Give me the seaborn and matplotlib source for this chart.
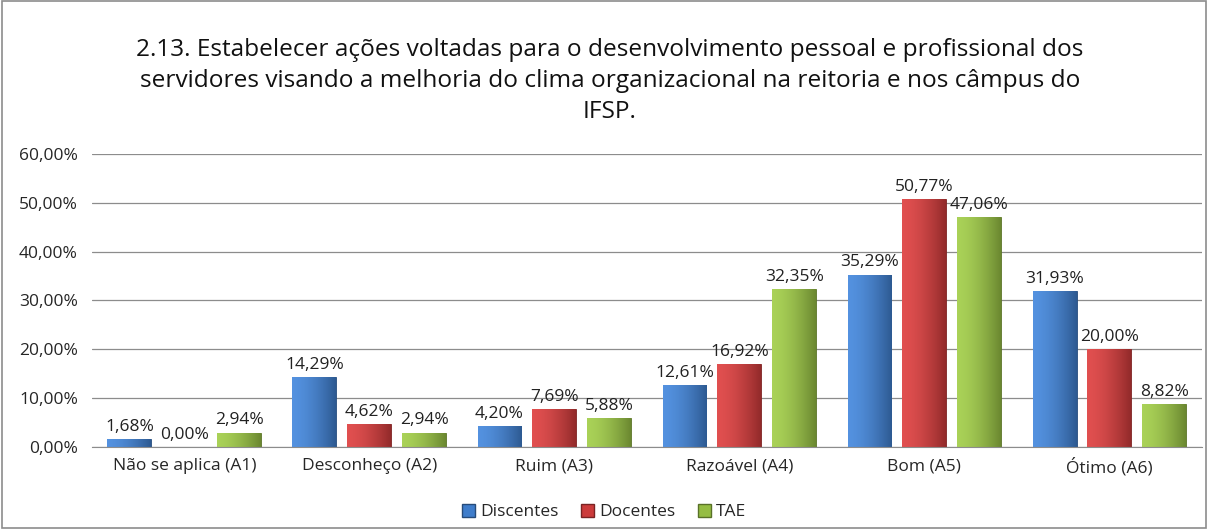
import numpy as np
import pandas as pd
import matplotlib
matplotlib.use('Agg')
import matplotlib.pyplot as plt
import matplotlib.colors as mcolors
from matplotlib.patches import Rectangle
import seaborn as sns

categories = ['Não se aplica (A1)', 'Desconheço (A2)', 'Ruim (A3)',
              'Razoável (A4)', 'Bom (A5)', 'Ótimo (A6)']
groups = ['Discentes', 'Docentes', 'TAE']
discentes = [1.68, 14.29, 4.20, 12.61, 35.29, 31.93]
docentes = [0.00, 4.62, 7.69, 16.92, 50.77, 20.00]
tae = [2.94, 2.94, 5.88, 32.35, 47.06, 8.82]
yticks = [0, 10, 20, 30, 40, 50, 60]
title = ('2.13. Estabelecer ações voltadas para o desenvolvimento pessoal e profissional dos\n'
         'servidores visando a melhoria do clima organizacional na reitoria e nos câmpus do\n'
         'IFSP.')

colors = {'Discentes': '#3F7DCB', 'Docentes': '#CC3B3B', 'TAE': '#95BD43'}

df = pd.DataFrame({
    'cat': categories * 3,
    'grupo': [g for g in groups for _ in categories],
    'valor': discentes + docentes + tae,
})

sns.set_style('white')
plt.rcParams['font.family'] = ['Open Sans', 'DejaVu Sans']

fig = plt.figure(figsize=(12.08, 5.29), dpi=100)
ax = fig.add_axes([0.076, 0.155, 0.919, 0.554])

sns.barplot(data=df, x='cat', y='valor', hue='grupo', order=categories,
            hue_order=groups, palette=colors, width=0.89, gap=0.2,
            ax=ax, legend=True, saturation=1)

# gradient fill on each bar, clipped to the bar shape
t = np.linspace(0, 1, 64)
for cont, g in zip(ax.containers, groups):
    base = np.array(mcolors.to_rgb(colors[g]))
    light = np.clip(base + 0.08, 0, 1)
    dark = base * 0.72
    grad = np.array([light + (dark - light) * (x ** 1.6) for x in t])
    for bar in cont:
        x0, y0 = bar.get_x(), bar.get_y()
        w, h = bar.get_width(), bar.get_height()
        bar.set_edgecolor(tuple(base * 0.6))
        bar.set_linewidth(0.6)
        if h <= 0:
            continue
        im = ax.imshow(grad[None, :, :], extent=[x0, x0 + w, y0, y0 + h],
                       aspect='auto', zorder=bar.get_zorder() + 0.1,
                       interpolation='bilinear')
        im.set_clip_path(bar)
    labels = [f'{v:.2f}%'.replace('.', ',') for v in cont.datavalues]
    ax.bar_label(cont, labels=labels, padding=3, fontsize=12.5, color='#222222')

ax.set_xlim(-0.5, len(categories) - 0.5)
ax.set_ylim(0, 60)
ax.set_yticks(yticks)
ax.set_yticklabels([f'{v:.2f}%'.replace('.', ',') for v in yticks], fontsize=12.5)
ax.yaxis.grid(True, color='#8C8C8C', linewidth=0.9)
ax.set_axisbelow(True)
ax.tick_params(axis='x', labelsize=12.5, length=0, pad=8)
ax.tick_params(axis='y', length=0, pad=10)
ax.set_xlabel('')
ax.set_ylabel('')
for s in ['top', 'right', 'left']:
    ax.spines[s].set_visible(False)
ax.spines['bottom'].set_color('#8C8C8C')

ax.get_legend().remove()
handles = [Rectangle((0, 0), 1, 1, facecolor=colors[g],
                     edgecolor=tuple(np.array(mcolors.to_rgb(colors[g])) * 0.6))
           for g in groups]
fig.legend(handles, groups, loc='center', bbox_to_anchor=(0.5, 0.032), ncol=3,
           frameon=False, fontsize=12.5, handlelength=0.75, handleheight=0.75,
           handletextpad=0.3, columnspacing=1.3)

fig.text(0.505, 0.847, title, ha='center', va='center', fontsize=17.6,
         linespacing=1.4, color='#111111')

fig.patches.append(Rectangle((0.002, 0.002), 0.996, 0.996, transform=fig.transFigure,
                             fill=False, edgecolor='#8C8C8C', linewidth=1.2))

fig.savefig('out.png', dpi=100)
